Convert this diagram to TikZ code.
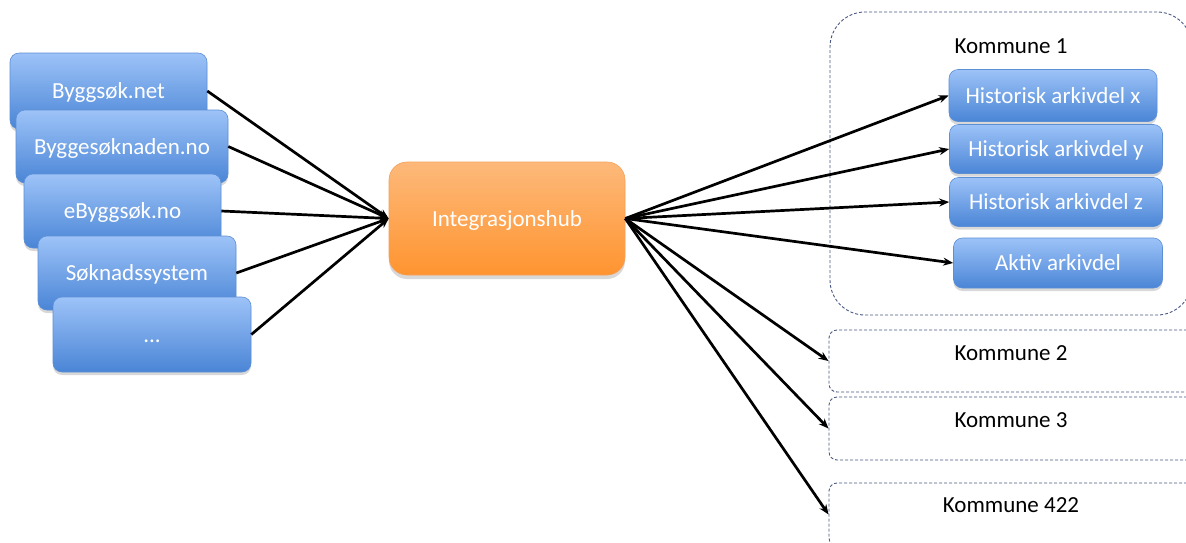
\documentclass[tikz,border=0pt]{standalone}
\usepackage{fontspec}
\setmainfont{Carlito}
\usetikzlibrary{arrows.meta,shadows}
\definecolor{bluetop}{HTML}{9DC3F8}
\definecolor{bluebot}{HTML}{4A85D6}
\definecolor{blueedge}{HTML}{5D8FD5}
\definecolor{orangetop}{HTML}{FDB97A}
\definecolor{orangebot}{HTML}{FF9430}
\definecolor{orangeedge}{HTML}{F5A05A}
\definecolor{dashcol}{HTML}{4A5884}
\begin{document}
\begin{tikzpicture}[x=1pt,y=-1pt,
  txt/.style={font=\fontsize{23}{27}\selectfont, text height=15pt, text depth=0pt},
  bluebox/.style={txt, draw=blueedge, line width=0.6pt, rounded corners=9pt,
    top color=bluetop, bottom color=bluebot, text=white, inner sep=0pt,
    drop shadow={opacity=0.3, shadow xshift=0pt, shadow yshift=-3pt}},
  hubbox/.style={txt, draw=orangeedge, line width=0.6pt, rounded corners=18pt,
    top color=orangetop, bottom color=orangebot, text=white, inner sep=0pt,
    drop shadow={opacity=0.3, shadow xshift=0pt, shadow yshift=-4pt}},
  kbox/.style={draw=dashcol, line width=0.9pt, dash pattern=on 3pt off 2pt, inner sep=0pt},
  klabel/.style={txt, text=black},
  conn/.style={line width=2.7pt, -{Stealth[length=10pt,width=8pt]}},
]
\clip (0,0) rectangle (1186,542);
\fill[white] (0,0) rectangle (1186,542);

% left source boxes
\node[bluebox, minimum width=197pt, minimum height=76pt] (s1) at (108.5,91) {Byggsøk.net};
\node[bluebox, minimum width=212pt, minimum height=73pt] (s2) at (122,146.5) {Byggesøknaden.no};
\node[bluebox, minimum width=197pt, minimum height=74pt] (s3) at (122.5,211) {eByggsøk.no};
\node[bluebox, minimum width=198pt, minimum height=74pt] (s4) at (137,273) {Søknadssystem};
\node[bluebox, minimum width=198pt, minimum height=75pt] (s5) at (152,334.5) {...};

% hub
\node[hubbox, minimum width=236pt, minimum height=113pt] (hub) at (507,218.5) {Integrasjonshub};

% Kommune containers
\node[kbox, rounded corners=35pt, minimum width=362pt, minimum height=303pt] (k1) at (1011,163.5) {};
\node[kbox, rounded corners=8pt, minimum width=371pt, minimum height=62pt] (k2) at (1014.5,361) {};
\node[kbox, rounded corners=8pt, minimum width=371pt, minimum height=63pt] (k3) at (1014.5,428.5) {};
\node[kbox, rounded corners=8pt, minimum width=371pt, minimum height=63pt] (k4) at (1014.5,514.5) {};

\node[klabel] (l1) at (1011,46) {Kommune 1};
\node[klabel] (l2) at (1011,353) {Kommune 2};
\node[klabel] (l3) at (1011,420) {Kommune 3};
\node[klabel] (l4) at (1011,505) {Kommune 422};

% archive parts
\node[bluebox, minimum width=208pt, minimum height=52pt] (hx) at (1053,95.5) {Historisk arkivdel x};
\node[bluebox, minimum width=213pt, minimum height=49pt] (hy) at (1056,149) {Historisk arkivdel y};
\node[bluebox, minimum width=213pt, minimum height=49pt] (hz) at (1056,202) {Historisk arkivdel z};
\node[bluebox, minimum width=209pt, minimum height=50pt] (ak) at (1058,263) {Aktiv arkivdel};

% connectors
\foreach \s in {s1,s2,s3,s4,s5} \draw[conn] (\s.east) -- (hub.west);
\foreach \t in {hx,hy,hz,ak,k2,k3,k4} \draw[conn] (hub.east) -- (\t.west);
\end{tikzpicture}
\end{document}
